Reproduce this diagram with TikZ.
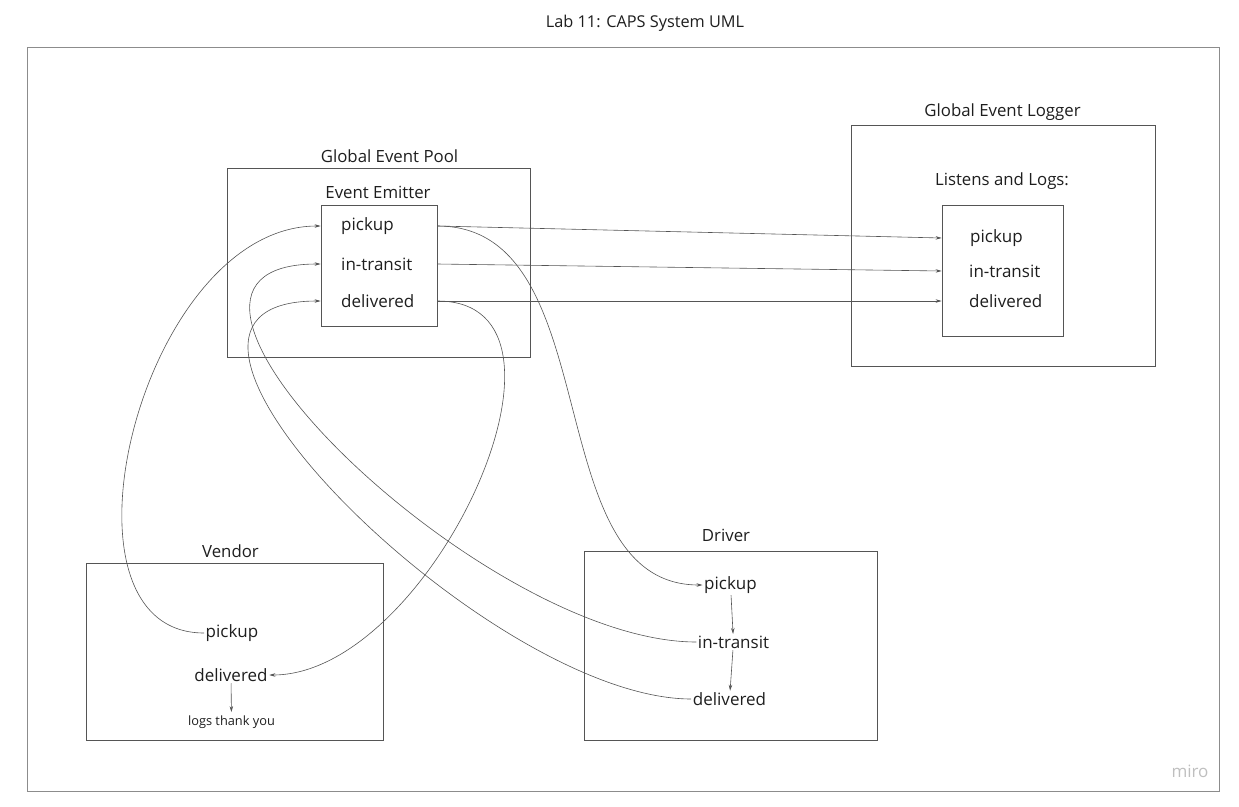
\documentclass[tikz,border=0pt]{standalone}
\usepackage{fontspec}
\setmainfont{Open Sans}
\usetikzlibrary{arrows.meta}
\definecolor{linegray}{HTML}{555555}
\definecolor{framegray}{HTML}{8C8C8C}
\definecolor{inkgray}{HTML}{1E1E1E}

\begin{document}
\begin{tikzpicture}[x=1pt,y=-1pt,
    box/.style={draw=linegray,line width=0.8pt,minimum width=#1},
    item/.style={text=inkgray,font=\fontsize{17}{20}\selectfont,inner sep=1.5pt},
    heading/.style={text=inkgray,font=\fontsize{16.8}{20}\selectfont},
    flow/.style={-{Stealth[length=6pt,width=3.5pt]},draw=linegray,line width=0.6pt}]

  \useasboundingbox (0,0) rectangle (1239,806);
  \node[text=inkgray,font=\fontsize{16.3}{19}\selectfont] at (645,23) (title) {Lab 11: CAPS System UML};
  \draw[framegray,line width=0.8pt] (27,47) rectangle (1219,791);
  \node[text=black!25,font=\fontsize{17}{19}\selectfont] at (1190,771) (brand) {miro};

  % event pool
  \node[heading] at (389.5,156) (pooltitle) {Global Event Pool};
  \node[box=303pt,minimum height=189pt] at (378.5,262.5) (pool) {};
  \node[heading] at (378,192) (emittitle) {Event Emitter};
  \node[box=116pt,minimum height=121pt] at (379,265.5) (emit) {};
  \node[item,anchor=west] at (339.5,226) (epick) {pickup};
  \node[item,anchor=west] at (339.5,264) (etrans) {in-transit};
  \node[item,anchor=west] at (339.5,301) (edeliv) {delivered};

  % event logger
  \node[heading] at (1002.5,112) (logtitle) {Global Event Logger};
  \node[box=304pt,minimum height=241pt] at (1003,245.5) (logger) {};
  \node[heading] at (1002,181) (listentitle) {Listens and Logs:};
  \node[box=121pt,minimum height=131pt] at (1002.5,270.5) (listen) {};
  \node[item,anchor=west] at (968.5,238) (lpick) {pickup};
  \node[item,anchor=west] at (967.5,271) (ltrans) {in-transit};
  \node[item,anchor=west] at (967.5,301) (ldeliv) {delivered};

  % vendor
  \node[heading] at (230.5,551) (vendtitle) {Vendor};
  \node[box=297pt,minimum height=177pt] at (234.5,651.5) (vendor) {};
  \node[item] at (232,633) (vpick) {pickup};
  \node[item] at (231,675) (vdeliv) {delivered};
  \node[text=inkgray,font=\fontsize{12.8}{15}\selectfont] at (231.5,722) (vlogs) {logs thank you};

  % driver
  \node[heading] at (726,535) (drivtitle) {Driver};
  \node[box=293pt,minimum height=189pt] at (730.5,645.5) (driver) {};
  \node[item] at (730.5,585) (dpick) {pickup};
  \node[item] at (733.5,642) (dtrans) {in-transit};
  \node[item] at (729.5,699) (ddeliv) {delivered};

  % emitter to logger
  \draw[flow] (emit.east |- epick) -- (listen.west |- lpick);
  \draw[flow] (emit.east |- etrans) -- (listen.west |- ltrans);
  \draw[flow] (emit.east |- edeliv) -- (listen.west |- ldeliv);

  % vendor and driver links
  \draw[flow] (vpick.west) .. controls +(-162,0) and +(-180,0) .. (emit.west |- epick);
  \draw[flow] (emit.east |- edeliv) .. controls +(165,0) and +(162,0) .. (vdeliv.east);
  \draw[flow] (emit.east |- epick) .. controls +(173,0) and +(-167,0) .. (dpick.west);
  \draw[flow] (dtrans.west) .. controls +(-216,0) and +(-227,0) .. (emit.west |- etrans);
  \draw[flow] (ddeliv.west) .. controls +(-204,0) and +(-233,0) .. (emit.west |- edeliv);

  \draw[flow] (vdeliv) -- (vlogs);
  \draw[flow] (dpick) -- (dtrans);
  \draw[flow] (dtrans) -- (ddeliv);
\end{tikzpicture}
\end{document}
